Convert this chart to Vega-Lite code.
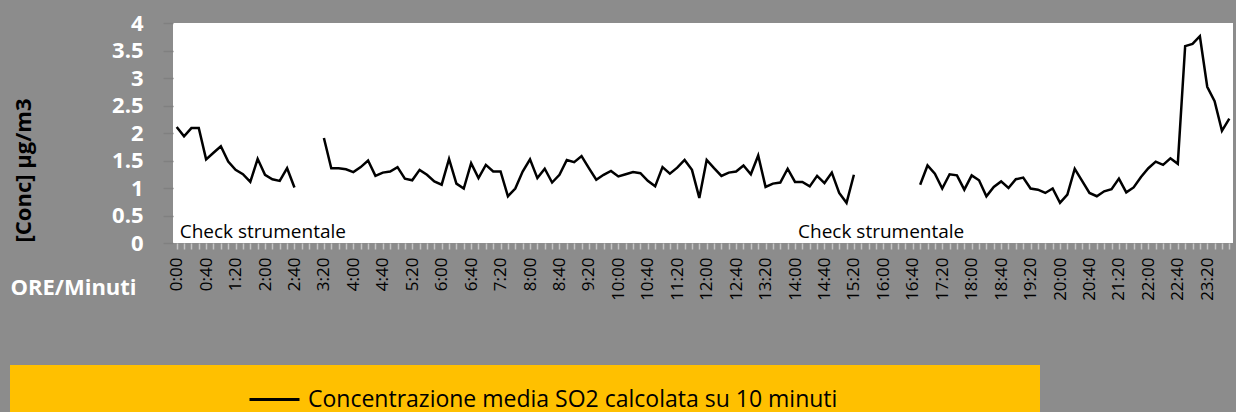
{
  "$schema": "https://vega.github.io/schema/vega-lite/v6.json",
  "autosize": "none",
  "width": 1060,
  "height": 220,
  "padding": {"left": 173, "top": 23, "right": 3, "bottom": 169},
  "background": "#8c8c8c",
  "config": {"view": {"stroke": null, "fill": "#ffffff"}},
  "data": {"values": [
    {"t":"0:00","c":2.11,"note":"Check strumentale"},{"t":"0:10","c":1.94},{"t":"0:20","c":2.09},{"t":"0:30","c":2.09},{"t":"0:40","c":1.52},{"t":"0:50","c":1.64},
    {"t":"1:00","c":1.76},{"t":"1:10","c":1.48},{"t":"1:20","c":1.33},{"t":"1:30","c":1.25},{"t":"1:40","c":1.11},{"t":"1:50","c":1.53},
    {"t":"2:00","c":1.24},{"t":"2:10","c":1.16},{"t":"2:20","c":1.13},{"t":"2:30","c":1.36},{"t":"2:40","c":1.01},{"t":"2:50","c":null},
    {"t":"3:00","c":null},{"t":"3:10","c":null},{"t":"3:20","c":1.91},{"t":"3:30","c":1.36},{"t":"3:40","c":1.36},{"t":"3:50","c":1.34},
    {"t":"4:00","c":1.29},{"t":"4:10","c":1.38},{"t":"4:20","c":1.50},{"t":"4:30","c":1.22},{"t":"4:40","c":1.28},{"t":"4:50","c":1.30},
    {"t":"5:00","c":1.38},{"t":"5:10","c":1.17},{"t":"5:20","c":1.14},{"t":"5:30","c":1.33},{"t":"5:40","c":1.24},{"t":"5:50","c":1.12},
    {"t":"6:00","c":1.06},{"t":"6:10","c":1.53},{"t":"6:20","c":1.08},{"t":"6:30","c":0.99},{"t":"6:40","c":1.45},{"t":"6:50","c":1.18},
    {"t":"7:00","c":1.42},{"t":"7:10","c":1.30},{"t":"7:20","c":1.30},{"t":"7:30","c":0.85},{"t":"7:40","c":0.99},{"t":"7:50","c":1.30},
    {"t":"8:00","c":1.52},{"t":"8:10","c":1.18},{"t":"8:20","c":1.35},{"t":"8:30","c":1.10},{"t":"8:40","c":1.24},{"t":"8:50","c":1.51},
    {"t":"9:00","c":1.47},{"t":"9:10","c":1.58},{"t":"9:20","c":1.36},{"t":"9:30","c":1.15},{"t":"9:40","c":1.24},{"t":"9:50","c":1.31},
    {"t":"10:00","c":1.21},{"t":"10:10","c":1.25},{"t":"10:20","c":1.29},{"t":"10:30","c":1.27},{"t":"10:40","c":1.13},{"t":"10:50","c":1.03},
    {"t":"11:00","c":1.38},{"t":"11:10","c":1.26},{"t":"11:20","c":1.37},{"t":"11:30","c":1.51},{"t":"11:40","c":1.33},{"t":"11:50","c":0.82},
    {"t":"12:00","c":1.51},{"t":"12:10","c":1.36},{"t":"12:20","c":1.22},{"t":"12:30","c":1.28},{"t":"12:40","c":1.30},{"t":"12:50","c":1.41},
    {"t":"13:00","c":1.25},{"t":"13:10","c":1.59},{"t":"13:20","c":1.02},{"t":"13:30","c":1.08},{"t":"13:40","c":1.10},{"t":"13:50","c":1.35},
    {"t":"14:00","c":1.11,"note":"Check strumentale"},{"t":"14:10","c":1.11},{"t":"14:20","c":1.03},{"t":"14:30","c":1.22},{"t":"14:40","c":1.09},{"t":"14:50","c":1.28},
    {"t":"15:00","c":0.91},{"t":"15:10","c":0.73},{"t":"15:20","c":1.24},{"t":"15:30","c":null},{"t":"15:40","c":null},{"t":"15:50","c":null},
    {"t":"16:00","c":null},{"t":"16:10","c":null},{"t":"16:20","c":null},{"t":"16:30","c":null},{"t":"16:40","c":null},{"t":"16:50","c":1.06},
    {"t":"17:00","c":1.41},{"t":"17:10","c":1.26},{"t":"17:20","c":0.99},{"t":"17:30","c":1.25},{"t":"17:40","c":1.23},{"t":"17:50","c":0.97},
    {"t":"18:00","c":1.23},{"t":"18:10","c":1.14},{"t":"18:20","c":0.85},{"t":"18:30","c":1.02},{"t":"18:40","c":1.12},{"t":"18:50","c":1.00},
    {"t":"19:00","c":1.16},{"t":"19:10","c":1.19},{"t":"19:20","c":0.99},{"t":"19:30","c":0.97},{"t":"19:40","c":0.91},{"t":"19:50","c":0.99},
    {"t":"20:00","c":0.73},{"t":"20:10","c":0.88},{"t":"20:20","c":1.35},{"t":"20:30","c":1.13},{"t":"20:40","c":0.91},{"t":"20:50","c":0.85},
    {"t":"21:00","c":0.94},{"t":"21:10","c":0.98},{"t":"21:20","c":1.17},{"t":"21:30","c":0.92},{"t":"21:40","c":1.01},{"t":"21:50","c":1.20},
    {"t":"22:00","c":1.36},{"t":"22:10","c":1.48},{"t":"22:20","c":1.42},{"t":"22:30","c":1.54},{"t":"22:40","c":1.44},{"t":"22:50","c":3.58},
    {"t":"23:00","c":3.62},{"t":"23:10","c":3.76},{"t":"23:20","c":2.84},{"t":"23:30","c":2.58},{"t":"23:40","c":2.04},{"t":"23:50","c":2.26}
  ]},
  "encoding": {
    "x": {
      "field": "t", "type": "ordinal", "sort": null,
      "axis": {
        "title": "ORE/Minuti",
        "titleX": -163, "titleY": 44, "titleAlign": "left", "titleBaseline": "middle", "titleAnchor": null,
        "titleFont": "Open Sans", "titleFontSize": 22, "titleFontWeight": "bold", "titleColor": "#ffffff",
        "labelExpr": "(toNumber(split(datum.value, ':')[0]) * 60 + toNumber(split(datum.value, ':')[1])) % 40 == 0 ? datum.value : ''",
        "labelAngle": 270, "labelOverlap": false, "labelFont": "Open Sans", "labelFontSize": 17, "labelColor": "#000000",
        "labelPadding": 8, "tickColor": "#c4c4c4", "tickSize": 6, "tickWidth": 1.5, "domain": false, "grid": false
      }
    },
    "y": {
      "field": "c", "type": "quantitative",
      "scale": {"domain": [0, 4], "nice": false},
      "axis": {
        "title": "[Conc] μg/m3",
        "titleX": -150, "titleY": 147, "titleAngle": 270, "titleAlign": "center", "titleBaseline": "middle", "titleAnchor": null,
        "titleFont": "Open Sans", "titleFontSize": 22, "titleFontWeight": "bold", "titleColor": "#000000",
        "values": [0, 0.5, 1, 1.5, 2, 2.5, 3, 3.5, 4], "format": "~g",
        "labelFont": "Open Sans", "labelFontSize": 22, "labelFontWeight": "bold", "labelColor": "#ffffff",
        "labelPadding": 20, "tickColor": "#808080", "tickSize": 10, "tickWidth": 1.5, "domain": false, "grid": false
      }
    }
  },
  "layer": [
    {
      "mark": {"type": "line", "strokeWidth": 2.5, "invalid": "break-paths-show-domains"},
      "encoding": {
        "color": {
          "datum": "Concentrazione media SO2 calcolata su 10 minuti",
          "scale": {"range": ["#000000"]},
          "legend": {
            "orient": "none", "legendX": -163, "legendY": 342,
            "fillColor": "#FFC000", "strokeColor": null, "padding": 8,
            "title": " ", "titleOrient": "right", "titlePadding": 195,
            "symbolType": "stroke", "symbolSize": 2500, "symbolStrokeWidth": 3, "symbolStrokeColor": "#000000",
            "symbolOffset": 230, "labelOffset": 7,
            "labelFont": "Open Sans", "labelFontSize": 23, "labelColor": "#000000", "labelLimit": 0
          }
        }
      }
    },
    {
      "transform": [{"filter": "datum.note != null"}],
      "mark": {"type": "text", "align": "left", "baseline": "alphabetic", "dx": 3, "dy": -5, "font": "Open Sans", "fontSize": 19, "color": "#000000"},
      "encoding": {
        "y": {"datum": 0},
        "text": {"field": "note"}
      }
    }
  ]
}
